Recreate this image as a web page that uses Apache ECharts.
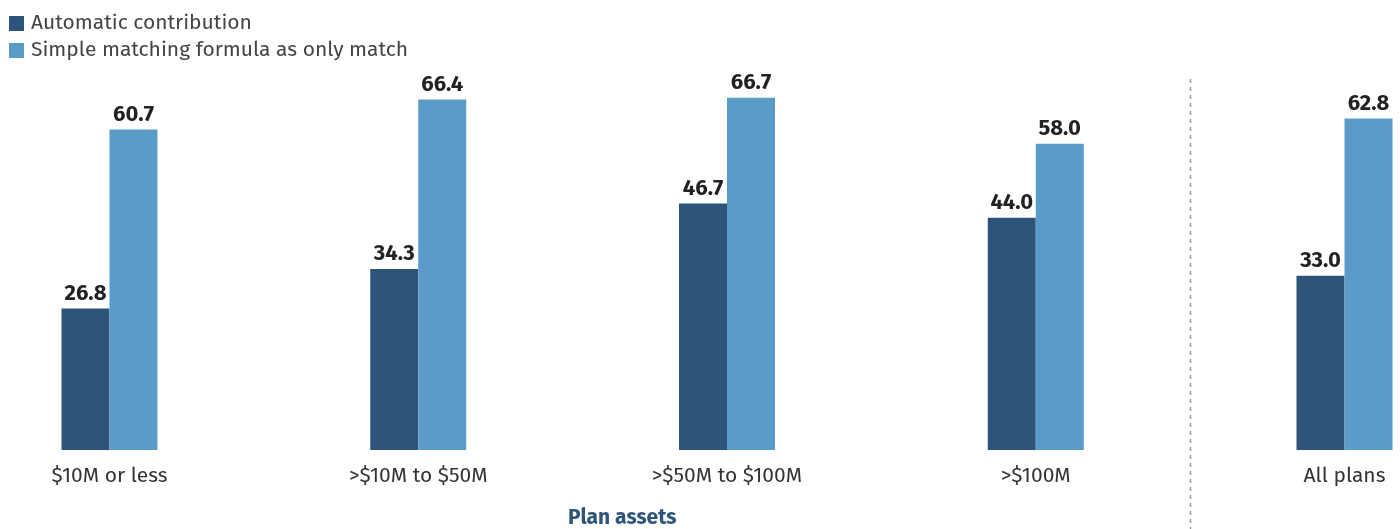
<!DOCTYPE html>
<html>
<head>
<meta charset="utf-8">
<script src="https://cdn.jsdelivr.net/npm/echarts@6/dist/echarts.min.js"></script>
<style>
html,body{margin:0;padding:0;background:#fff}
#chart{width:1400px;height:529px}
</style>
</head>
<body>
<div id="chart"></div>
<script>
// data
var categories = ['$10M or less', '>$10M to $50M', '>$50M to $100M', '>$100M', 'All plans']
var automatic = [26.8, 34.3, 46.7, 44.0, 33.0]
var simpleMatch = [60.7, 66.4, 66.7, 58.0, 62.8]
var seriesNames = ['Automatic contribution', 'Simple matching formula as only match']

var font = '"Fira Sans", "Open Sans", "Noto Sans", sans-serif'
var myChart = echarts.init(document.getElementById('chart'))

var labelOpt = {
  show: true,
  position: 'top',
  distance: 4,
  formatter: function (p) { return p.value.toFixed(1) },
  color: '#222',
  fontWeight: 'bold',
  fontSize: 22,
  fontFamily: font
}

var option = {
  animation: false,
  textStyle: {fontFamily: font},
  legend: {
    orient: 'vertical',
    left: 4,
    top: 8,
    itemWidth: 15,
    itemHeight: 15,
    itemGap: 6,
    icon: 'rect',
    data: seriesNames,
    textStyle: {fontSize: 21, color: '#444', fontFamily: font, padding: [0, 0, 0, 2]}
  },
  grid: {left: 109.5, right: 55.5, top: 27.6, bottom: 79},
  xAxis: {
    type: 'category',
    data: categories,
    boundaryGap: false,
    axisLine: {show: false},
    axisTick: {show: false},
    axisLabel: {color: '#333', fontSize: 21, margin: 16, fontFamily: font}
  },
  yAxis: {
    type: 'value',
    min: 0,
    max: 80,
    show: false
  },
  series: [{
    name: seriesNames[0],
    type: 'bar',
    data: automatic,
    barWidth: 48,
    barGap: '0%',
    itemStyle: {color: '#2f5479'},
    label: labelOpt
  }, {
    name: seriesNames[1],
    type: 'bar',
    data: simpleMatch,
    barWidth: 48,
    barGap: '0%',
    itemStyle: {color: '#5b9bc7'},
    label: labelOpt
  }]
}
myChart.setOption(option)

// dashed separator between the size groups and "All plans"
var xa = myChart.convertToPixel({xAxisIndex: 0}, categories[3])
var xb = myChart.convertToPixel({xAxisIndex: 0}, categories[4])
var sepX = Math.round((xa + xb) / 2) + 0.5
var x0 = myChart.convertToPixel({xAxisIndex: 0}, categories[0])
myChart.setOption({
  graphic: [{
    type: 'line',
    shape: {x1: sepX, y1: 79, x2: sepX, y2: 529},
    style: {stroke: '#999', lineWidth: 1.5, lineDash: [4, 4]}
  }, {
    type: 'text',
    left: (x0 - 48 + sepX) / 2 - 58,
    top: 508,
    style: {text: 'Plan assets', fill: '#2f5479', font: 'bold 21px ' + font}
  }]
})
window.addEventListener('resize', function () { myChart.resize() })
</script>
</body>
</html>
